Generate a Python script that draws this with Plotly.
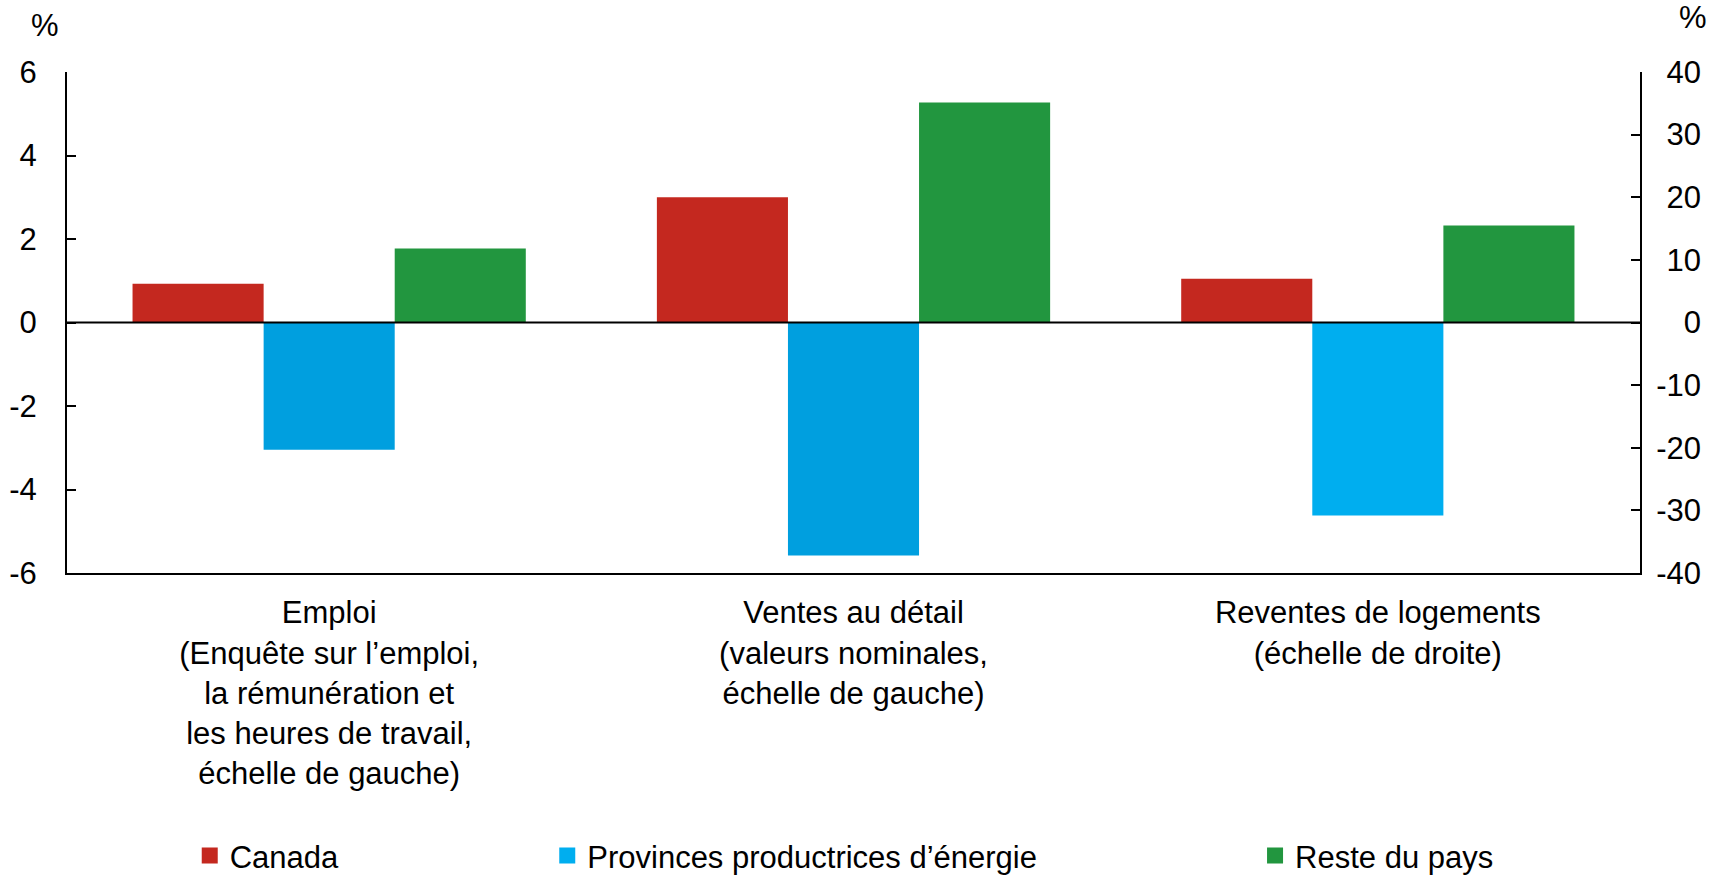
import plotly.graph_objects as go

categories = ["Emploi", "Ventes au détail", "Reventes de logements"]
tick_labels = [
    "Emploi<br>(Enquête sur l’emploi,<br>la rémunération et<br>les heures de travail,<br>échelle de gauche)",
    "Ventes au détail<br>(valeurs nominales,<br>échelle de gauche)",
    "Reventes de logements<br>(échelle de droite)",
]
series_names = ["Canada", "Provinces productrices d’énergie", "Reste du pays"]
# left-axis values (Emploi, Ventes) ; right-axis values (Reventes)
canada = [0.93, 3.0, 7.0]
provinces = [-3.05, -5.58, -30.8]
reste = [1.77, 5.27, 15.5]

left_ticks = [-6, -4, -2, 0, 2, 4, 6]
left_ticktext = ["-6", "-4", "-2", "0", "2", "4", "6"]
right_ticks = [-40, -30, -20, -10, 0, 10, 20, 30, 40]
right_ticktext = ["-40", "-30", "-20", "-10", "0", "10", "20", "30", "40"]

left_colors = ["#C4281F", "#009FDF", "#22963F"]
right_colors = ["#C4281F", "#00AEEF", "#22963F"]

FONT = "Liberation Sans, Arial, sans-serif"
FS = 31


def right_align(label):
    # pad with fixed-width spaces so that labels end at the same x (right-aligned look)
    pad = ""
    if not label.startswith("-"):
        pad += "\u2004"  # width of a hyphen (1/3 em)
    digits = len(label.lstrip("-"))
    pad += "\u2007" * (2 - digits)  # figure space = digit width
    return pad + label


fig = go.Figure()
all_vals = [canada, provinces, reste]
legend_ids = ["legend", "legend2", "legend3"]
for i, (name, vals) in enumerate(zip(series_names, all_vals)):
    left_vals = [vals[0], vals[1], None]
    right_vals = [None, None, vals[2]]
    fig.add_trace(go.Bar(x=categories, y=left_vals, name=name, offsetgroup=str(i),
                         marker=dict(color=left_colors[i], line=dict(width=0)),
                         yaxis="y", showlegend=False))
    fig.add_trace(go.Bar(x=categories, y=right_vals, name=name, offsetgroup=str(i),
                         marker=dict(color=right_colors[i], line=dict(width=0)),
                         yaxis="y2", showlegend=False))
    # legend-only entry with a larger square swatch
    fig.add_trace(go.Scatter(x=[None], y=[None], name=name, mode="markers",
                             marker=dict(symbol="square", size=17, color=right_colors[i],
                                         line=dict(width=0)),
                             yaxis="y2", showlegend=True, legend=legend_ids[i],
                             hoverinfo="skip"))

# zero line drawn above bars
fig.add_shape(type="line", xref="paper", x0=0, x1=1, yref="y", y0=0, y1=0,
              line=dict(color="black", width=2), layer="above")

leg_common = dict(orientation="h", xref="container", yref="container",
                  yanchor="middle", y=0.023, xanchor="left",
                  font=dict(family=FONT, size=FS, color="black"),
                  bgcolor="rgba(0,0,0,0)", itemclick=False)

fig.update_layout(
    template="none",
    width=1728, height=876,
    margin=dict(l=67, r=88, t=72, b=303, autoexpand=False),
    paper_bgcolor="white", plot_bgcolor="white",
    barmode="group", bargap=0.25, bargroupgap=0,
    font=dict(family=FONT, size=FS, color="black"),
    legend=dict(x=0.1098, **leg_common),
    legend2=dict(x=0.3167, **leg_common),
    legend3=dict(x=0.7263, **leg_common),
    xaxis=dict(
        tickmode="array", tickvals=categories, ticktext=tick_labels,
        range=[-0.5, 2.5],
        showline=True, linecolor="black", linewidth=2, ticks="",
        showgrid=False, zeroline=False, ticklabelstandoff=11, automargin=False,
        tickfont=dict(family=FONT, size=FS, color="black"),
    ),
    yaxis=dict(
        range=[-6, 6], tickmode="array", tickvals=left_ticks, ticktext=left_ticktext,
        showline=True, linecolor="black", linewidth=2,
        ticks="inside", ticklen=9, tickwidth=2, tickcolor="black",
        showgrid=False, zeroline=False, ticklabelstandoff=22, automargin=False,
        tickfont=dict(family=FONT, size=FS, color="black"),
    ),
    yaxis2=dict(
        range=[-40, 40], tickmode="array", tickvals=right_ticks,
        ticktext=[right_align(t) for t in right_ticktext],
        overlaying="y", side="right",
        showline=True, linecolor="black", linewidth=2,
        ticks="inside", ticklen=9, tickwidth=2, tickcolor="black",
        ticklabelstandoff=8,
        showgrid=False, zeroline=False, automargin=False,
        tickfont=dict(family=FONT, size=FS, color="black"),
    ),
    annotations=[
        dict(text="%", xref="paper", yref="paper", x=-0.0140, y=1.092,
             xanchor="center", yanchor="middle", showarrow=False,
             font=dict(family=FONT, size=FS, color="black")),
        dict(text="%", xref="paper", yref="paper", x=1.0337, y=1.108,
             xanchor="center", yanchor="middle", showarrow=False,
             font=dict(family=FONT, size=FS, color="black")),
    ],
)

fig.write_html("out.html", config={"displayModeBar": False},
               post_script="document.body.style.margin='0';")
